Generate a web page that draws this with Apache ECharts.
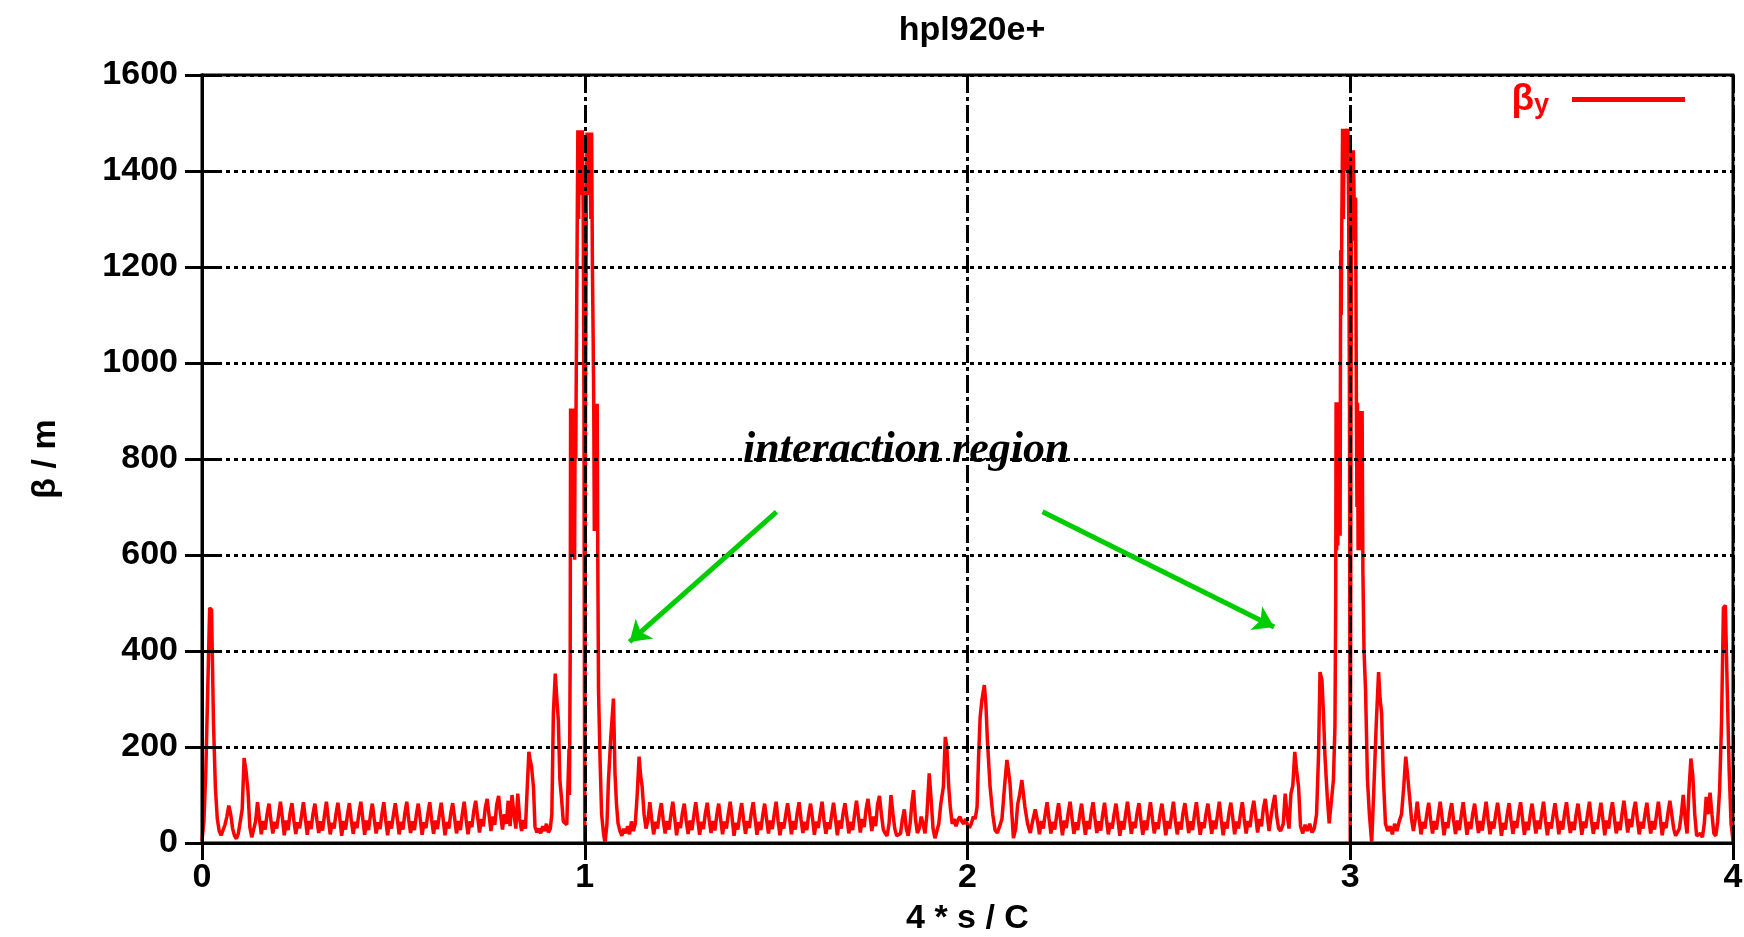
<!DOCTYPE html>
<html><head><meta charset="utf-8">
<script src="https://cdn.jsdelivr.net/npm/echarts@6/dist/echarts.min.js"></script>
<style>html,body{margin:0;padding:0;background:#fff}#c{width:1744px;height:937px}</style>
</head><body><div id="c"></div>
<script>
// ---------- DATA ----------
const chartTitle = 'hpl920e+';
const xAxisName = '4 * s / C';
const yAxisName = 'β / m';
const seriesName = 'βy';
const xTickLabels = ['0', '1', '2', '3', '4'];
const yTickLabels = ['0', '200', '400', '600', '800', '1000', '1200', '1400', '1600'];

// region around s = 0 (uniform step)
const ipZeroStart = 0.000, ipZeroStep = 0.005;
const ipZeroBeta = [5,45,150,320,490,485,250,115,50,25,16,20,38,55,78,60,30,15,9,20,45,70,177,150,110,33,12,10,45];

// arc 1 (uniform step)
const arcOneStart = 0.145, arcOneStep = 0.005;
const arcOneBeta = [
85,50,18,46,28,60, 82,48,20,44,30,58, 86,52,16,47,27,62, 83,47,19,43,31,57,
85,51,17,46,29,61, 82,49,21,45,26,58, 86,50,18,42,30,60, 84,52,15,46,28,59,
83,48,19,44,31,62, 86,51,17,47,27,57, 82,50,20,43,29,60, 85,47,16,46,30,58,
83,52,18,44,28,62, 86,49,21,45,27,59, 82,51,17,43,31,60, 85,48,19,47,29,58,
84,50,16,44,30,62, 83,52,20,46,27,60, 86,49,18,45,33,66, 88,55,22,50,35,72,
92,58,25,55,38,80, 98,60,28,60,40,88];

// interaction region at s = 1
const irOneS = [0.805,0.810,0.815,0.820,0.825,0.830,0.835,0.840,0.845,0.850,0.854,0.857,0.861,0.866,0.870,0.875,0.880,0.885,0.890,0.895,
0.900,0.905,0.910,0.914,0.918,0.923,0.927,0.931,0.935,0.939,0.944,0.948,0.953,0.957,
0.959,0.960,0.962,0.963,0.9645,0.966,0.9675,0.969,0.9705,0.972,0.9735,0.975,0.9765,0.978,0.980,0.982,0.984,0.986,0.988,0.990,
0.992,0.994,0.996,0.998,0.999,1.000,1.001,1.002,1.004,1.006,1.008,1.010,1.012,1.014,1.016,1.018,1.020,1.022,1.0235,1.025,
1.0265,1.028,1.0295,1.031,1.0325,1.034,1.036,1.040,1.044,
1.049,1.053,1.058,1.062,1.068,1.075,1.079,1.083,1.087,1.092,1.097,1.102,1.107,1.112,1.117,1.122,1.127,1.132,1.137,1.142,
1.146,1.150,1.155,1.160];
const irOneBeta = [35,100,60,30,103,50,25,48,30,120,190,175,159,117,34,22,30,20,35,25,
40,22,30,60,270,353,300,256,131,96,45,41,38,41,
197,100,395,905,600,905,620,905,700,905,590,905,800,1000,1250,1485,1300,1485,1350,1485,
1400,1485,1300,900,400,0,400,900,1300,1480,1400,1480,1350,1480,1300,1480,1200,1050,915,650,
915,700,915,651,915,600,318,173,60,
20,0,40,131,220,301,145,80,41,25,15,30,20,35,18,45,25,40,100,180,
140,117,60,30];

// arc 2
const arcTwoStart = 1.165, arcTwoStep = 0.005;
const arcTwoBeta = [
46,85,50,18,44,30, 60,83,48,20,46,28, 58,86,52,16,43,31, 62,82,47,19,47,27,
57,85,51,17,44,29, 61,84,49,21,46,26, 58,82,50,18,45,30, 60,86,52,15,42,28,
59,83,48,19,46,31, 62,85,51,17,44,27, 57,82,50,20,47,29, 60,86,47,16,43,30,
58,83,52,18,46,28, 62,85,49,21,44,27, 59,82,51,17,45,31, 60,86,48,19,43,29,
58,84,50,16,47,30, 62,83,52,20,44,27, 60,88,55,22,50,33, 70,92,58,25,55,35,
80,98,60,28,20,15, 40,100,62,30,15,12];

// region around s = 2
const nearTwoS = [1.825,1.830,1.835,1.840,1.845,1.850,1.855,1.859,1.864,1.869,1.874,1.879,1.884,1.889,1.894,1.900,1.905,1.910,1.915,1.920,
1.925,1.930,1.937,1.942,1.946,1.951,1.955,1.960,1.965,1.970,1.975,1.980,1.985,1.990,1.995,2.000,2.005,2.010,2.015,2.020,
2.025,2.029,2.033,2.038,2.044,2.048,2.052,2.059,2.066,2.072,2.078,2.084,2.090,2.097,2.103,2.107,2.111,2.116,2.120,2.126,
2.131,2.136,2.142,2.150,2.157,2.164,2.170,2.177];
const nearTwoBeta = [20,50,70,30,15,40,85,110,50,21,30,55,40,20,60,145,90,30,10,12,
40,80,117,221,200,117,75,40,50,35,48,55,45,40,50,38,32,40,55,50,
75,180,262,300,329,290,214,117,60,27,21,35,50,120,173,150,125,60,10,30,
80,100,131,75,40,21,45,70];

// arc 3
const arcThreeStart = 2.183, arcThreeStep = 0.005;
const arcThreeBeta = [
45,18,46,30,60,85, 50,20,44,28,58,83, 48,16,47,31,62,86, 52,19,43,27,57,82,
47,17,46,29,61,85, 51,21,45,26,58,84, 49,18,42,30,60,82, 50,15,46,28,59,86,
52,19,44,31,62,83, 48,17,47,27,57,85, 51,20,43,29,60,82, 50,16,46,30,58,86,
47,18,44,28,62,83, 52,21,45,27,59,85, 49,17,43,31,60,82, 51,19,47,29,58,86,
48,16,44,30,62,84, 52,18,45,30,60,85, 50,20,46,33,66,88, 55,22,50,35,72,92,
58,25,55,80,100,55,30,25];

// interaction region at s = 3
const irThreeS = [2.825,2.830,2.835,2.840,2.845,2.850,2.855,2.860,2.865,2.870,2.876,2.882,2.888,2.894,2.900,2.906,2.912,2.917,2.921,2.926,
2.930,2.934,2.940,2.945,2.950,
2.956,2.960,2.962,2.963,2.9645,2.966,2.9675,2.969,2.9705,2.972,2.9735,2.975,2.9765,2.978,2.980,2.982,2.984,2.986,2.988,2.990,
2.992,2.994,2.996,2.998,2.999,3.000,3.001,3.002,3.004,3.006,3.008,3.010,3.012,3.014,3.016,3.0175,3.019,3.0205,3.022,3.0235,
3.025,3.0265,3.028,3.0295,3.031,3.033,3.036,3.040,3.045,
3.050,3.056,3.062,3.068,3.074,3.078,3.082,3.086,3.092,3.098,3.104,3.110,3.116,3.122,3.128,3.134,3.140,3.145,3.150,3.155,
3.160,3.165];
const irThreeBeta = [40,103,60,30,103,120,190,150,117,35,20,38,25,40,22,30,60,180,356,340,
270,180,96,41,45,
131,242,500,918,610,900,620,918,700,900,640,1235,1100,1300,1488,1300,1488,1400,1488,1480,
1440,1488,1300,900,400,0,400,900,1443,1400,1443,1345,1255,1345,917,700,917,610,900,650,
900,700,900,610,900,568,400,318,131,
60,0,120,250,356,300,270,145,40,25,35,18,40,25,45,60,120,180,140,96,
50,25];

// arc 4
const arcFourStart = 3.170, arcFourStep = 0.005;
const arcFourBeta = [
50,86,50,18,44,30, 60,84,48,20,46,28, 58,86,52,16,43,31, 62,83,47,19,47,27,
57,85,51,17,44,29, 61,82,49,21,46,26, 58,86,50,18,45,30, 60,84,52,15,42,28,
59,83,48,19,46,31, 62,85,51,17,44,27, 57,82,50,20,47,29, 60,86,47,16,43,30,
58,83,52,18,46,28, 62,85,49,21,44,27, 59,82,51,17,45,31, 60,86,48,19,43,29,
58,84,50,16,47,30, 62,85,52,20,44,27, 60,88,55,22,50,33, 66,86,50,18,44,30,
60,84,48,20,46,28, 58,86,52,16,43,31, 62,88,60,30,15,12];

// region approaching s = 4
const ipFourStart = 3.860, ipFourStep = 0.005;
const ipFourBeta = [30,60,100,50,20,110,176,140,60,15,11,20,12,40,96,60,105,60,20,15,45,110,250,490,495,320,150,40,5];

// annotation (data coordinates)
const annotationText = 'interaction region';
const annotationAt = [1.84, 818];
const arrowOne = [[1.501, 690], [1.117, 419]];
const arrowTwo = [[2.196, 690], [2.801, 450]];

// ---------- build series data ----------
const points = [];
function addUniform(s0, step, vals) { vals.forEach((v, i) => points.push([+(s0 + i * step).toFixed(4), v])); }
function addPairs(sArr, vals) { sArr.forEach((s, i) => points.push([s, vals[i]])); }
addUniform(ipZeroStart, ipZeroStep, ipZeroBeta);
addUniform(arcOneStart, arcOneStep, arcOneBeta);
addPairs(irOneS, irOneBeta);
addUniform(arcTwoStart, arcTwoStep, arcTwoBeta);
addPairs(nearTwoS, nearTwoBeta);
addUniform(arcThreeStart, arcThreeStep, arcThreeBeta);
addPairs(irThreeS, irThreeBeta);
addUniform(arcFourStart, arcFourStep, arcFourBeta);
addUniform(ipFourStart, ipFourStep, ipFourBeta);
points.sort((a, b) => a[0] - b[0]);

const FONT = '"Liberation Sans", Arial, sans-serif';
const labelStyle = { fontFamily: FONT, fontWeight: 'bold', fontSize: 34, color: '#000' };

const chart = echarts.init(document.getElementById('c'));
chart.setOption({
  animation: false,
  backgroundColor: '#ffffff',
  title: {
    text: chartTitle, left: 967, top: 9, textAlign: 'center',
    textStyle: { fontFamily: FONT, fontWeight: 'bold', fontSize: 34, color: '#000' }
  },
  legend: {
    right: 54, top: 76, align: 'right', icon: 'rect', itemWidth: 113, itemHeight: 5,
    data: [seriesName],
    formatter: () => '{b|β}{s|y}',
    textStyle: {
      color: '#ff0000',
      rich: {
        b: { fontFamily: FONT, fontWeight: 'bold', fontSize: 37, color: '#ff0000' },
        s: { fontFamily: FONT, fontWeight: 'bold', fontSize: 27, color: '#ff0000', verticalAlign: 'bottom', padding: [12, 18, 0, 0] }
      }
    }
  },
  grid: {
    left: 202, right: 11, top: 75, bottom: 94, show: true, borderColor: '#000', borderWidth: 3,
    containLabel: false, outerBoundsMode: 'none'
  },
  xAxis: [{
    type: 'value', min: 0, max: 4, interval: 1, z: 5,
    name: xAxisName, nameLocation: 'middle', nameGap: 59, nameTextStyle: labelStyle,
    axisLine: { show: true, lineStyle: { color: '#000', width: 3 } },
    axisTick: { show: true, inside: true, length: 17, lineStyle: { color: '#000', width: 3 } },
    axisLabel: { ...labelStyle, margin: 18, formatter: v => xTickLabels[Math.round(v)] },
    splitLine: { show: true, lineStyle: { color: '#000', width: 3, type: [18, 4, 4, 4] } }
  }, {
    type: 'value', position: 'top', min: 0, max: 4, interval: 1, z: 5,
    axisLine: { show: true, lineStyle: { color: '#000', width: 3 } },
    axisTick: { show: true, inside: true, length: 17, lineStyle: { color: '#000', width: 3 } },
    axisLabel: { show: false }, splitLine: { show: false }
  }],
  yAxis: [{
    type: 'value', min: 0, max: 1600, interval: 200, z: 5,
    name: yAxisName, nameLocation: 'middle', nameGap: 139, nameTextStyle: labelStyle,
    axisLine: { show: true, lineStyle: { color: '#000', width: 3 } },
    axisTick: { show: true, inside: true, length: 17, lineStyle: { color: '#000', width: 3 } },
    axisLabel: { ...labelStyle, margin: 24, formatter: v => yTickLabels[Math.round(v / 200)] },
    splitLine: { show: true, lineStyle: { color: '#000', width: 3, type: [4, 4] } }
  }, {
    type: 'value', position: 'right', min: 0, max: 1600, interval: 200, z: 5,
    axisLine: { show: true, lineStyle: { color: '#000', width: 3 } },
    axisTick: { show: true, inside: true, length: 17, lineStyle: { color: '#000', width: 3 } },
    axisLabel: { show: false }, splitLine: { show: false }
  }],
  series: [{
    name: seriesName, type: 'line', data: points, showSymbol: false, symbol: 'none',
    sampling: null, z: 2,
    lineStyle: { color: '#ff0000', width: 3.5 }, itemStyle: { color: '#ff0000' },
    markLine: {
      silent: true, symbol: ['none', 'arrow'], symbolSize: 20,
      label: { show: false },
      lineStyle: { color: '#00cc00', width: 5, type: 'solid' },
      data: [
        [{ coord: arrowOne[0] }, { coord: arrowOne[1] }],
        [{ coord: arrowTwo[0] }, { coord: arrowTwo[1] }]
      ]
    },
    markPoint: {
      silent: true, symbol: 'circle', symbolSize: 1, itemStyle: { color: 'rgba(0,0,0,0)' },
      label: {
        show: true, position: 'inside', formatter: annotationText,
        fontFamily: '"Liberation Serif", "Times New Roman", serif', fontStyle: 'italic', fontWeight: 'bold',
        fontSize: 44, color: '#000'
      },
      data: [{ coord: annotationAt }]
    }
  }]
});
</script></body></html>
